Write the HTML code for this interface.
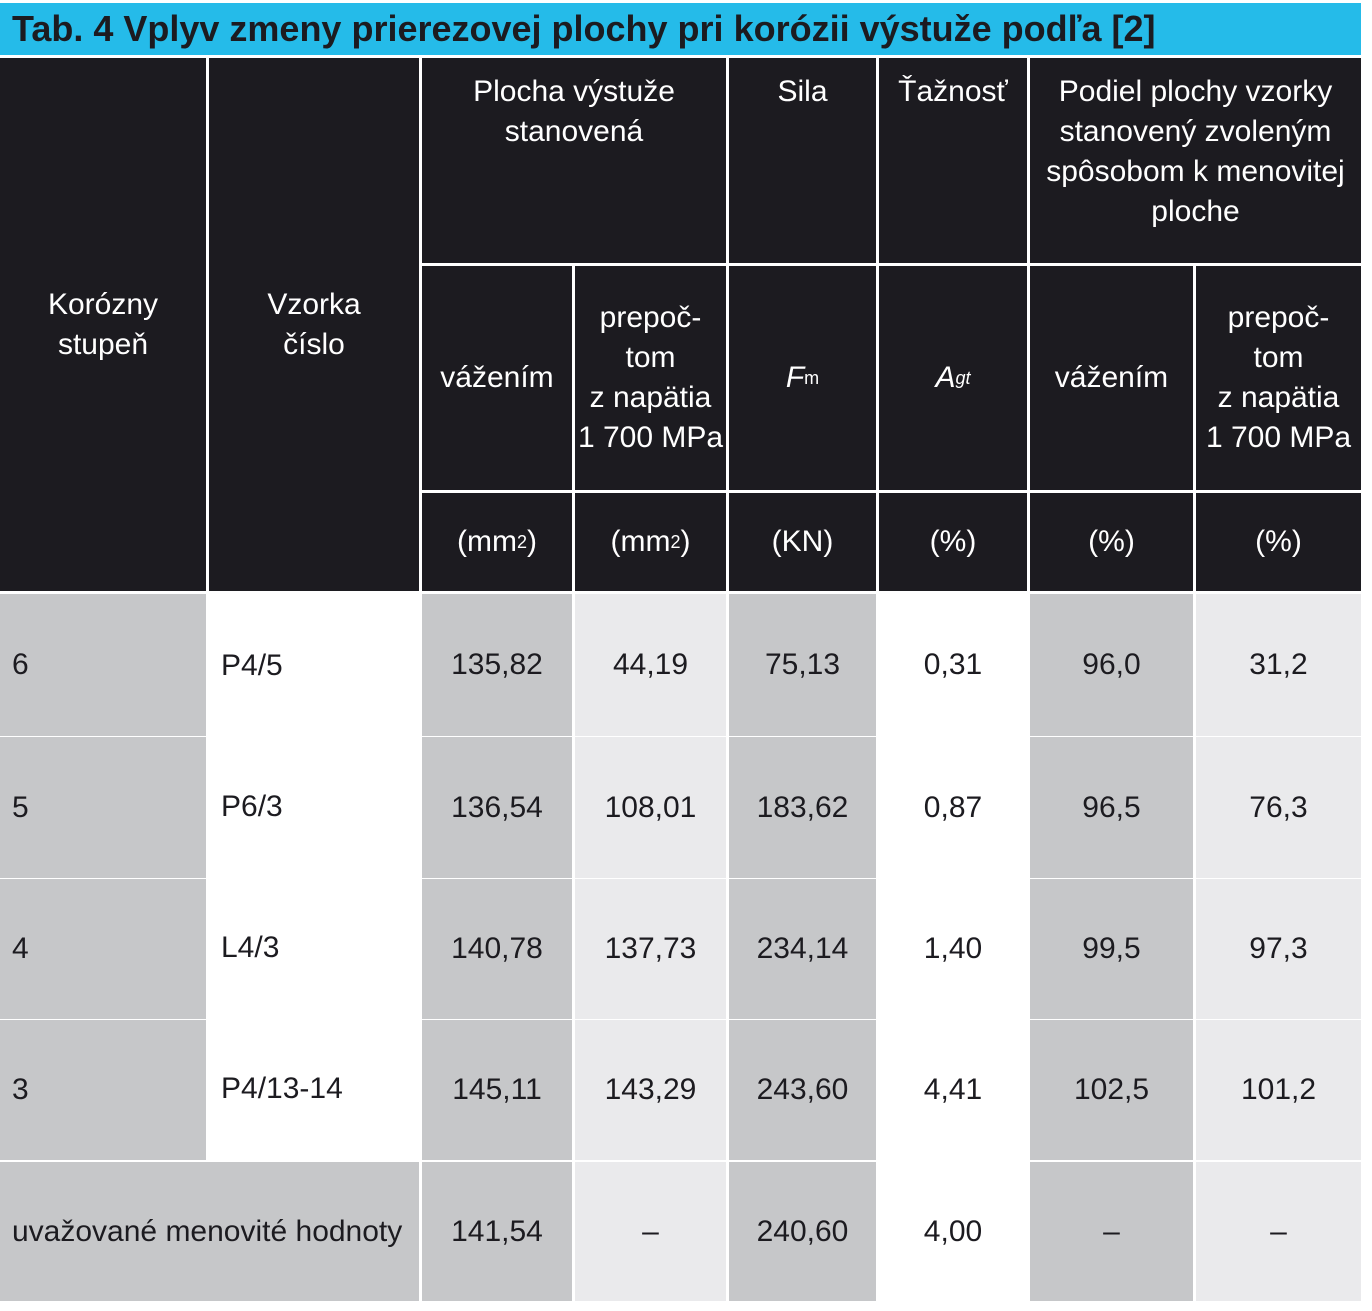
<!DOCTYPE html>
<html><head><meta charset="utf-8"><style>
body{margin:0;width:1372px;height:1311px;background:#fff;position:relative;overflow:hidden;font-family:"Liberation Sans Narrow","Liberation Sans",sans-serif;}
.c{position:absolute;display:flex;align-items:center;justify-content:center;text-align:center;font-size:30px;line-height:40px;color:#1c1b20;box-sizing:border-box;}
.h{background:#1c1b20;color:#fff;}
.g{background:#c6c7c9}.l{background:#eaeaec}.w{background:#fff}
.left{justify-content:flex-start;padding-left:12px;}
.top{align-items:flex-start;padding-top:14px;}
sub{font-size:18px;vertical-align:-10px;font-style:normal}
sup{font-size:18px;vertical-align:12px;line-height:0}
</style></head><body>
<div style="position:absolute;left:0;top:3px;width:1361px;height:52px;background:#25bbe9;"></div>
<div style="position:absolute;left:12px;top:9px;font-size:36px;font-weight:bold;color:#1c1b20;line-height:40px;">Tab. 4 Vplyv zmeny prierezovej plochy pri korózii výstuže podľa [2]</div>

<div class="c h" style="left:0;top:58px;width:206px;height:533px;">Korózny<br>stupeň</div>
<div class="c h" style="left:209px;top:58px;width:210px;height:533px;">Vzorka<br>číslo</div>
<div class="c h top" style="left:422px;top:58px;width:304px;height:205px;">Plocha výstuže<br>stanovená</div>
<div class="c h top" style="left:729px;top:58px;width:147px;height:205px;">Sila</div>
<div class="c h top" style="left:879px;top:58px;width:148px;height:205px;">Ťažnosť</div>
<div class="c h top" style="left:1030px;top:58px;width:331px;height:205px;">Podiel plochy vzorky<br>stanovený zvoleným<br>spôsobom k menovitej<br>ploche</div>

<div class="c h" style="left:422px;top:266px;width:150px;height:224px;">vážením</div>
<div class="c h" style="left:575px;top:266px;width:151px;height:224px;">prepoč-<br>tom<br>z napätia<br>1 700 MPa</div>
<div class="c h" style="left:729px;top:266px;width:147px;height:224px;"><i>F</i><sub>m</sub></div>
<div class="c h" style="left:879px;top:266px;width:148px;height:224px;"><i>A</i><sub><i>gt</i></sub></div>
<div class="c h" style="left:1030px;top:266px;width:163px;height:224px;">vážením</div>
<div class="c h" style="left:1196px;top:266px;width:165px;height:224px;">prepoč-<br>tom<br>z napätia<br>1 700 MPa</div>

<div class="c h" style="left:422px;top:493px;width:150px;height:98px;">(mm<sup>2</sup>)</div>
<div class="c h" style="left:575px;top:493px;width:151px;height:98px;">(mm<sup>2</sup>)</div>
<div class="c h" style="left:729px;top:493px;width:147px;height:98px;">(KN)</div>
<div class="c h" style="left:879px;top:493px;width:148px;height:98px;">(%)</div>
<div class="c h" style="left:1030px;top:493px;width:163px;height:98px;">(%)</div>
<div class="c h" style="left:1196px;top:493px;width:165px;height:98px;">(%)</div>

<div id="rows"></div>
<script>
const stupne=["6","5","4","3"];
const vzorky=["P4/5","P6/3","L4/3","P4/13-14"];
const vazenim=["135,82","136,54","140,78","145,11"];
const prepocet=["44,19","108,01","137,73","143,29"];
const sila=["75,13","183,62","234,14","243,60"];
const agt=["0,31","0,87","1,40","4,41"];
const podielV=["96,0","96,5","99,5","102,5"];
const podielP=["31,2","76,3","97,3","101,2"];
const cols=[[0,206,'g',true],[209,210,'w',true],[422,150,'g'],[575,151,'l'],[729,147,'g'],[879,148,'w'],[1030,163,'g'],[1196,165,'l']];
const tops=[594,737,879,1020];
const root=document.body;
function cell(x,y,w,h,cls,txt,name){
 const d=document.createElement('div');
 d.className='c '+cls;
 d.style.cssText=`left:${x}px;top:${y}px;width:${w}px;height:${h}px;`;
 d.textContent=txt;
 
 
 root.appendChild(d);
}
for(let r=0;r<4;r++){
 const vals=[stupne[r],vzorky[r],vazenim[r],prepocet[r],sila[r],agt[r],podielV[r],podielP[r]];
 const h=(r<3?tops[r+1]:1160)-tops[r]-(r<3?1:0);
 cols.forEach((c,i)=>{
  const y=(i==1&&r>0)?tops[r]-2:tops[r];
  const hh=(i==1)?h+2:h;
  cell(c[0],y,c[1],hh,c[2]+(c[3]?' left':''),vals[i],'cell-r'+r+'-c'+i);
 });
}
const last=["141,54","–","240,60","4,00","–","–"];
cell(0,1162,419,139,'g left','uvažované menovité hodnoty','nominal-values-label');
for(let i=2;i<8;i++){const c=cols[i];cell(c[0],1162,c[1],139,c[2],last[i-2],'nominal-value-c'+i);}
</script>
</body></html>
